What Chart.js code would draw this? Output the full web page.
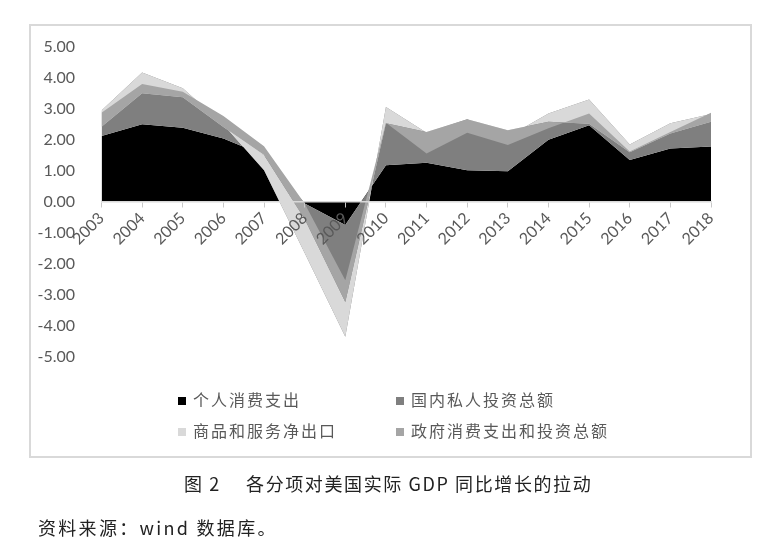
<!DOCTYPE html>
<html>
<head>
<meta charset="utf-8">
<script src="https://cdn.jsdelivr.net/npm/chart.js@4/dist/chart.umd.min.js"></script>
<style>
  html, body { margin: 0; padding: 0; background: #fff; }
  #wrap { position: relative; width: 776px; height: 557px; overflow: hidden; }
  #frame { position: absolute; left: 29px; top: 24px; width: 719px; height: 430px; border: 2px solid #d9d9d9; }
  #chart { position: absolute; left: 0; top: 0; }
  .lg { position: absolute; font: 16px "Noto Sans CJK SC", sans-serif; color: #595959; letter-spacing: 2px; line-height: 20px; white-space: nowrap; }
  .lg i { display: inline-block; width: 8px; height: 8px; margin-right: 7px; vertical-align: 1px; }
  .txt { position: absolute; font-family: "Noto Sans CJK SC", sans-serif; color: #222; white-space: pre; line-height: 24px; }
</style>
</head>
<body>
<div id="wrap">
  <div id="frame"></div>
  <canvas id="chart" width="776" height="557"></canvas>
  <div class="lg" style="left:178px; top:389px;"><i style="background:#000000"></i>个人消费支出</div>
  <div class="lg" style="left:396px; top:389px;"><i style="background:#7f7f7f"></i>国内私人投资总额</div>
  <div class="lg" style="left:178px; top:420px;"><i style="background:#d9d9d9"></i>商品和服务净出口</div>
  <div class="lg" style="left:396px; top:420px;"><i style="background:#a5a5a5"></i>政府消费支出和投资总额</div>
  <div class="txt" style="left:184px; top:471px; font-size:18px; letter-spacing:1.6px;">图 2　 各分项对美国实际 GDP 同比增长的拉动</div>
  <div class="txt" style="left:38px; top:515px; font-size:18px; letter-spacing:2.3px;">资料来源：wind 数据库。</div>
</div>
<script>
/* ---------- Data (contribution to real GDP growth, pct points) ---------- */

const YEARS = ['2003', '2004', '2005', '2006', '2007', '2008', '2009', '2010',
  '2011', '2012', '2013', '2014', '2015', '2016', '2017', '2018'];

const PCE = [2.12, 2.50, 2.39, 2.04, 1.50, -0.05, -0.75, 1.18, 1.26, 1.02, 0.99, 2.00, 2.47, 1.35, 1.72, 1.78];
const INVEST = [0.82, 1.67, 1.27, 0.45, -0.48, -1.60, -3.60, 1.88, 0.97, 1.64, 1.11, 0.85, 0.83, 0.50, 0.81, 1.05];
const NET_EXPORTS = [-0.52, -0.67, -0.29, -0.08, 0.49, 1.10, 1.12, -0.53, 0.02, 0.00, 0.21, -0.27, -0.78, -0.25, -0.33, -0.25];
const GOVERNMENT = [0.45, 0.30, 0.18, 0.36, 0.28, 0.50, 0.70, 0.02, -0.69, -0.43, -0.48, -0.21, 0.33, 0.02, 0.05, 0.29];

const Y_TICKS = [-5, -4, -3, -2, -1, 0, 1, 2, 3, 4, 5];

const SERIES = [
  { label: '个人消费支出', data: PCE, color: '#000000' },
  { label: '国内私人投资总额', data: INVEST, color: '#7f7f7f' },
  { label: '商品和服务净出口', data: NET_EXPORTS, color: '#d9d9d9' },
  { label: '政府消费支出和投资总额', data: GOVERNMENT, color: '#a5a5a5' },
];

/* ---------- Stacked levels (Excel-style: every value added in order) ---------- */

function cumulative(k) {
  return YEARS.map((_, i) => {
    let s = 0;
    for (let j = 0; j <= k; j++) s += SERIES[j].data[i];
    return Math.round(s * 100) / 100;
  });
}

// Later series must paint over earlier ones, so the top of the stack goes first
// (Chart.js paints dataset 0 last).
const n = SERIES.length;
const datasets = SERIES.map((s, k) => ({
  label: s.label,
  data: cumulative(k),
  backgroundColor: s.color,
  borderColor: 'rgba(0,0,0,0)',
  borderWidth: 0,
  pointRadius: 0,
  tension: 0,
  fill: k === 0 ? 'origin' : (n - 1) - (k - 1),
})).reverse();

Chart.defaults.font.family = 'Lato, "Open Sans", sans-serif';

new Chart(document.getElementById('chart'), {
  type: 'line',
  data: { labels: YEARS, datasets },
  options: {
    responsive: false,
    animation: false,
    layout: { padding: { left: 31.5, right: 65, top: 46.7, bottom: 200 } },
    plugins: {
      legend: { display: false },
      tooltip: { enabled: false },
    },
    scales: {
      x: {
        position: { y: 0 },
        offset: false,
        // axis line, tick marks and labels sit on top of the areas
        grid: { display: true, drawOnChartArea: false, drawTicks: true, tickLength: 5, color: '#c8c8c8', z: 1 },
        border: { display: true, color: '#d9d9d9', width: 1.5, z: 1 },
        ticks: {
          z: 1,
          autoSkip: false,
          minRotation: 45,
          maxRotation: 45,
          padding: 2,
          color: '#595959',
          font: { size: 16 },
        },
        afterFit(scale) { scale.height = 0; },
      },
      y: {
        min: Y_TICKS[0],
        max: Y_TICKS[Y_TICKS.length - 1],
        grid: { display: false },
        border: { display: false },
        afterBuildTicks(scale) { scale.ticks = Y_TICKS.map(v => ({ value: v })); },
        afterFit(scale) { scale.width = 70; },
        ticks: {
          padding: 18.5,
          color: '#595959',
          font: { size: 16 },
          callback: v => v.toFixed(2),
        },
      },
    },
  },
});
</script>
</body>
</html>
